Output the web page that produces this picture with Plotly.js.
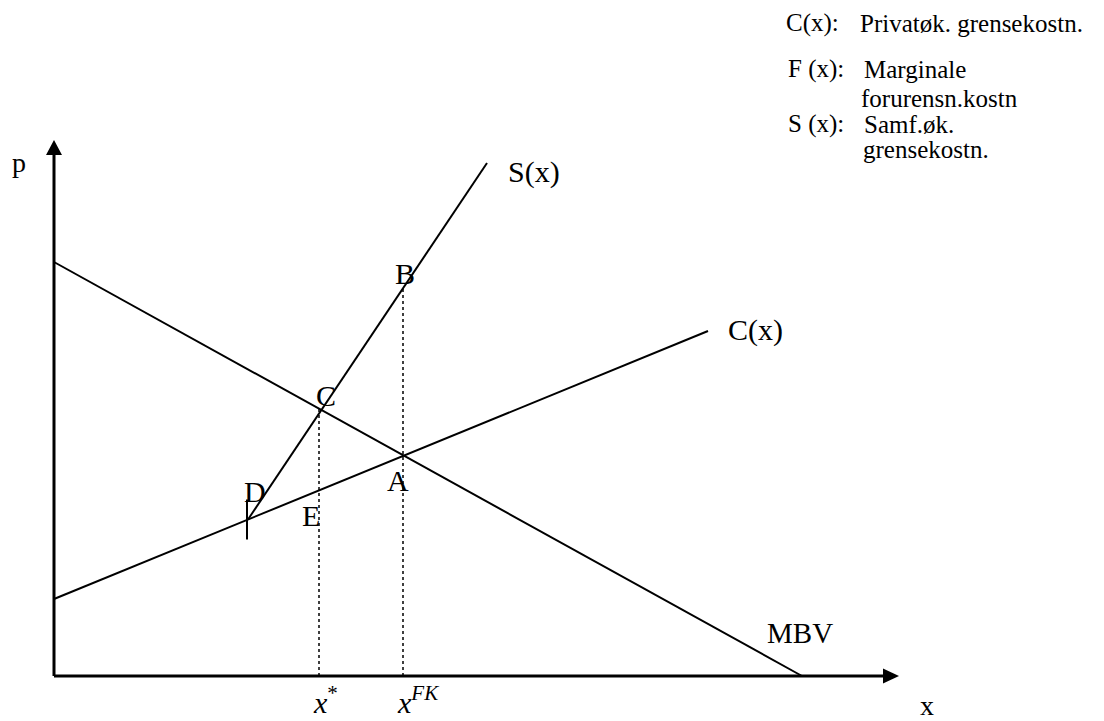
<!DOCTYPE html>
<html>
<head>
<meta charset="utf-8">
<script src="https://cdn.plot.ly/plotly-3.0.1.min.js"></script>
<style>html,body{margin:0;padding:0;background:#fff;}#chart{width:1104px;height:721px;}</style>
</head>
<body>
<div id="chart"></div>
<script>
// ---- Data (abstract quantity / price units, origin at axis crossing) ----
const axisXEnd = 845;          // tip of quantity axis
const axisYEnd = 536;          // tip of price axis
const mbvX = [0, 748];         // marginal benefit (MBV)
const mbvY = [414, 0];
const privX = [0, 654];        // C(x): private marginal cost
const privY = [77, 345];
const socX = [194, 433];       // S(x): social marginal cost
const socY = [156.5, 513];
const xStar = 265;             // x*
const xFK = 349;               // x^FK
const tickHalf = 20;           // small tick at D

const curveLabels = ["S(x)", "C(x)", "MBV"];
const pointLabels = ["A", "B", "C", "D", "E"];
const legendKeys = ["C(x):", "F (x):", "S (x):"];
const legendTexts = [["Privatøk. grensekostn."], ["Marginale", "forurensn.kostn"], ["Samf.øk.", "grensekostn."]];

function interp(xs, ys, x) {
  const t = (x - xs[0]) / (xs[1] - xs[0]);
  return ys[0] + t * (ys[1] - ys[0]);
}

const black = '#000';
const traces = [
  // axes
  {x: [0, axisXEnd - 16], y: [0, 0], mode: 'lines', line: {color: black, width: 3}},
  {x: [0, 0], y: [0, axisYEnd - 15], mode: 'lines', line: {color: black, width: 3}},
  // curves
  {x: mbvX, y: mbvY, mode: 'lines', line: {color: black, width: 2}},
  {x: privX, y: privY, mode: 'lines', line: {color: black, width: 2}},
  {x: socX, y: socY, mode: 'lines', line: {color: black, width: 2}},
  // dotted guides
  {x: [xStar, xStar], y: [0, interp(mbvX, mbvY, xStar)], mode: 'lines', line: {color: black, width: 1.5, dash: 'dot'}},
  {x: [xFK, xFK], y: [0, interp(socX, socY, xFK)], mode: 'lines', line: {color: black, width: 1.5, dash: 'dot'}},
  // tick at D
  {x: [socX[0] - 1, socX[0] - 1], y: [socY[0] - tickHalf, socY[0] + tickHalf], mode: 'lines', line: {color: black, width: 2}}
];

const shapes = [
  {type: 'path', xref: 'x', yref: 'y', path: `M ${axisXEnd - 16},-7.5 L ${axisXEnd},0 L ${axisXEnd - 16},7.5 Z`, fillcolor: black, line: {width: 0}},
  {type: 'path', xref: 'x', yref: 'y', path: `M -8,${axisYEnd - 15} L 0,${axisYEnd} L 8,${axisYEnd - 15} Z`, fillcolor: black, line: {width: 0}}
];

const serif = 'Liberation Serif, Times New Roman, serif';
function ann(text, x, y, size, opts) {
  return Object.assign({text: text, x: x, y: y, xref: 'x', yref: 'y', showarrow: false,
    xanchor: 'center', yanchor: 'middle', font: {family: serif, size: size, color: black}}, opts || {});
}

const annotations = [
  ann('p', -35, 514, 28),
  ann('x', 873, -29, 28),
  ann(curveLabels[0], 480, 504, 30),
  ann(curveLabels[1], 701, 346, 30),
  ann(curveLabels[2], 746, 43, 29),
  ann(pointLabels[0], 344, 196, 30),
  ann(pointLabels[1], 351, 403, 30),
  ann(pointLabels[2], 272, 281, 30),
  ann(pointLabels[3], 201, 185, 30),
  ann(pointLabels[4], 257, 161, 30),
  ann('<i>x</i><sup>*</sup>', xStar - 8, -24, 30, {xanchor: 'left'}),
  ann('<i>x<sup>FK</sup></i>', xFK - 8, -24, 30, {xanchor: 'left'}),
  // legend block
  ann(legendKeys[0], 730, 653, 25, {xanchor: 'left'}),
  ann(legendTexts[0][0], 804, 653, 25, {xanchor: 'left'}),
  ann(legendKeys[1], 732, 607, 25, {xanchor: 'left'}),
  ann(legendTexts[1][0], 808, 607, 25, {xanchor: 'left'}),
  ann(legendTexts[1][1], 805, 578, 25, {xanchor: 'left'}),
  ann(legendKeys[2], 732, 552, 25, {xanchor: 'left'}),
  ann(legendTexts[2][0], 808, 552, 25, {xanchor: 'left'}),
  ann(legendTexts[2][1], 807, 527, 25, {xanchor: 'left'})
];

const layout = {
  width: 1104, height: 721,
  margin: {l: 0, r: 0, t: 0, b: 0},
  paper_bgcolor: '#fff', plot_bgcolor: '#fff',
  showlegend: false,
  xaxis: {range: [-54, 1050], visible: false, fixedrange: true},
  yaxis: {range: [-45, 676], visible: false, fixedrange: true},
  shapes: shapes,
  annotations: annotations
};

Plotly.newPlot('chart', traces, layout, {staticPlot: true, displayModeBar: false});
</script>
</body>
</html>
